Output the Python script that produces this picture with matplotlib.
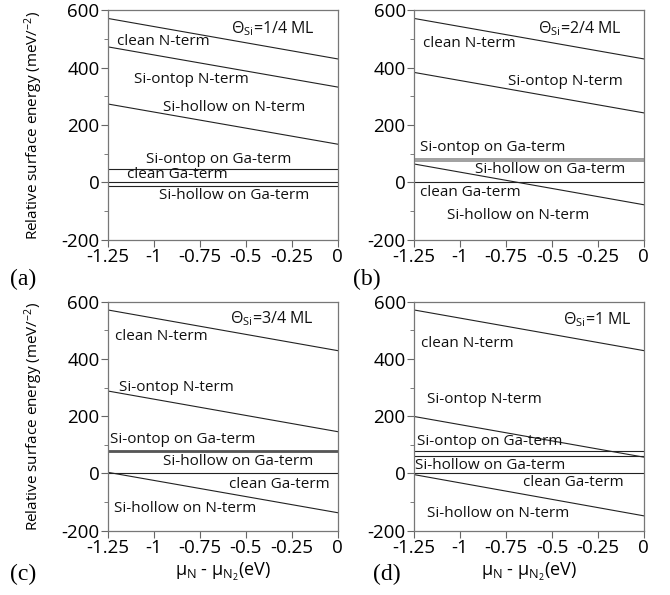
import matplotlib.pyplot as plt
from matplotlib.ticker import MultipleLocator

# chemical potential range (eV)
mu_range = [-1.25, 0.0]

# surface names
names = ['clean N-term', 'Si-ontop N-term', 'Si-hollow on N-term',
         'Si-ontop on Ga-term', 'clean Ga-term', 'Si-hollow on Ga-term']

# energies at mu=-1.25 and mu=0 for each panel, order as in names
coverage = ['1/4 ML', '2/4 ML', '3/4 ML', '1 ML']
e_a = [[571, 430], [472, 332], [273, 133], [47, 47], [0, 0], [-12, -12]]
e_b = [[571, 430], [383, 242], [64, -78], [80, 80], [0, 0], [75, 75]]
e_c = [[571, 429], [288, 146], [4, -137], [78, 78], [0, 0], [74, 74]]
e_d = [[571, 429], [199, 57], [-4, -148], [78, 78], [0, 0], [62, 62]]
energies = [e_a, e_b, e_c, e_d]

# label placement (x, y) in data units, same order as names
label_pos = [
    [(-1.20, 492), (-1.11, 359), (-0.95, 261), (-1.04, 81), (-1.145, 26), (-0.97, -47)],
    [(-1.20, 482), (-0.74, 351), (-1.07, -115), (-1.22, 121), (-1.22, -34), (-0.916, 46)],
    [(-1.21, 478), (-1.19, 301), (-1.214, -124), (-1.24, 117), (-0.59, -37), (-0.95, 42)],
    [(-1.214, 454), (-1.177, 260), (-1.177, -139), (-1.234, 113), (-0.657, -31), (-1.243, 29)],
]
theta_pos = [(-0.58, 536), (-0.575, 536), (-0.583, 542), (-0.44, 538)]
line_colors = [
    ['#222222'] * 6,
    ['#222222', '#222222', '#222222', '#999999', '#222222', '#999999'],
    ['#222222', '#222222', '#222222', '#555555', '#222222', '#555555'],
    ['#222222'] * 6,
]
line_widths = [
    [0.8] * 6,
    [0.8, 0.8, 0.8, 1.3, 0.8, 1.3],
    [0.8, 0.8, 0.8, 1.3, 0.8, 1.3],
    [0.8] * 6,
]

plt.rcParams['font.family'] = ['Open Sans', 'DejaVu Sans']
plt.rcParams['mathtext.fontset'] = 'custom'
plt.rcParams['mathtext.rm'] = 'Open Sans'
plt.rcParams['mathtext.it'] = 'Open Sans'
plt.rcParams['axes.unicode_minus'] = False

fig = plt.figure(figsize=(6.7, 5.95), dpi=100)
boxes = [[0.161, 0.597, 0.343, 0.386], [0.618, 0.597, 0.343, 0.386],
         [0.161, 0.108, 0.343, 0.385], [0.618, 0.108, 0.343, 0.385]]
tags = ['(a)', '(b)', '(c)', '(d)']
tag_xy = [(0.015, 0.513), (0.527, 0.513), (0.015, 0.017), (0.557, 0.017)]

for i in range(4):
    ax = fig.add_axes(boxes[i])
    for j, name in enumerate(names):
        ax.plot(mu_range, energies[i][j], color=line_colors[i][j],
                lw=line_widths[i][j])
        x, y = label_pos[i][j]
        ax.text(x, y, name, fontsize=11, ha='left', va='center', color='#111111')
    tx, ty = theta_pos[i]
    ax.text(tx, ty, r'$\Theta_{\mathrm{Si}}$=' + coverage[i], fontsize=11.5,
            ha='left', va='center', color='#111111')

    ax.set_xlim(-1.25, 0)
    ax.set_ylim(-200, 600)
    ax.set_xticks([-1.25, -1, -0.75, -0.5, -0.25, 0])
    ax.set_xticklabels(['-1.25', '-1', '-0.75', '-0.5', '-0.25', '0'])
    ax.set_yticks([-200, 0, 200, 400, 600])
    ax.yaxis.set_minor_locator(MultipleLocator(100))
    ax.tick_params(which='both', direction='out', labelsize=13.5,
                   color='#666666', pad=1)
    ax.tick_params(which='major', length=5)
    ax.tick_params(which='minor', length=3)
    for s in ax.spines.values():
        s.set_color('#777777')
        s.set_linewidth(0.9)

    if i in (0, 2):
        ax.set_ylabel('Relative surface energy (meV/$^{-2}$)', fontsize=11,
                      labelpad=12)
    if i in (2, 3):
        ax.set_xlabel('μ$_{\\mathrm{N}}$ - μ$_{\\mathrm{N}_2}$(eV)',
                      fontsize=13, labelpad=3)

    fig.text(tag_xy[i][0], tag_xy[i][1], tags[i], fontsize=17,
             family='Liberation Serif', ha='left', va='bottom')

fig.savefig('out.png', dpi=100)
